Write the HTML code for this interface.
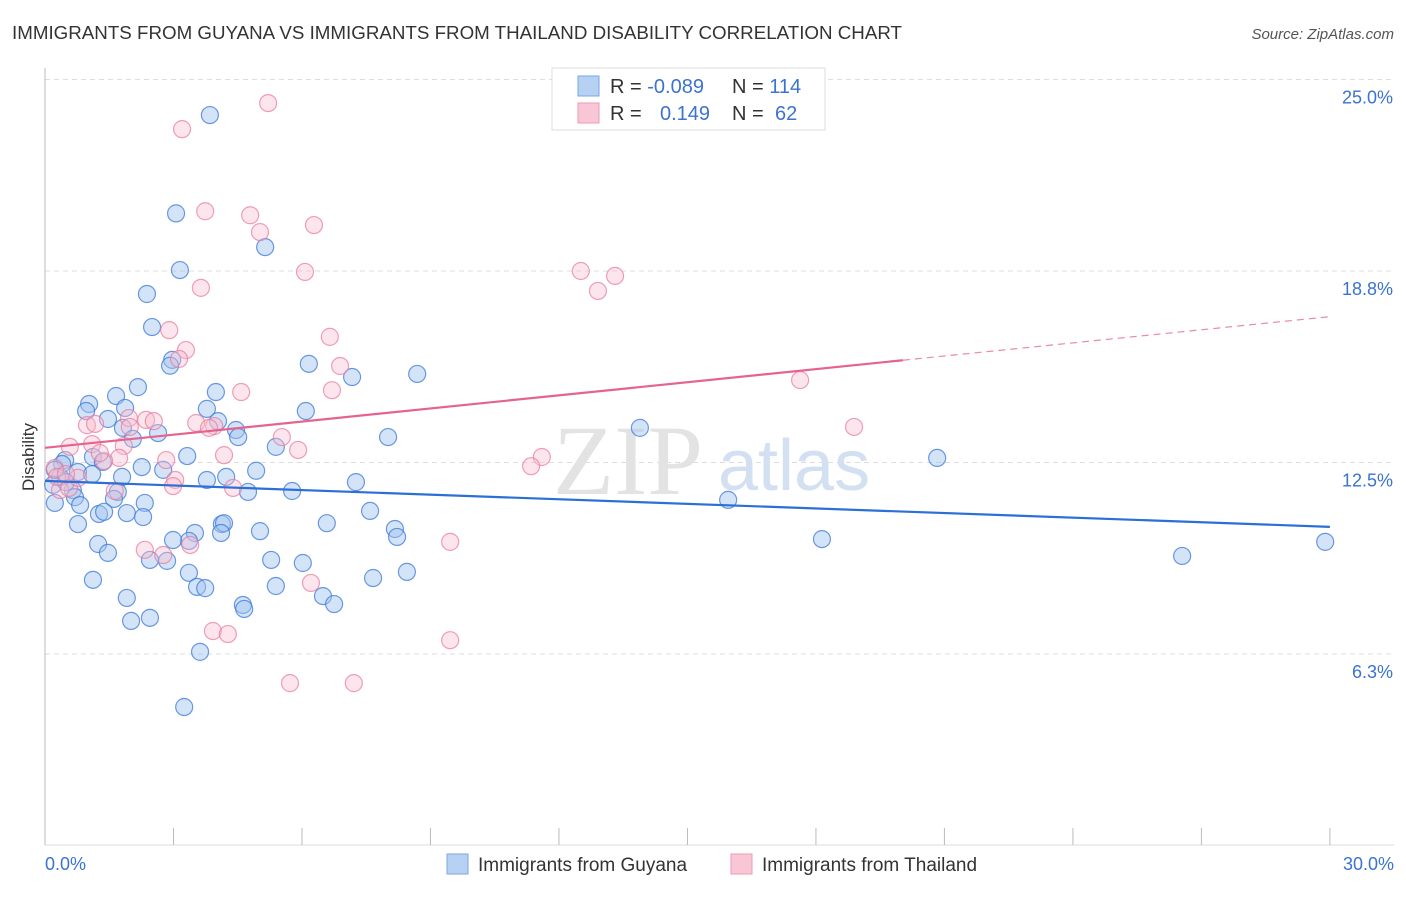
<!DOCTYPE html>
<html><head><meta charset="utf-8"><style>
body{margin:0;background:#fff;font-family:"Liberation Sans",sans-serif;}
</style></head><body>
<svg id="chart" width="1406" height="892" xmlns="http://www.w3.org/2000/svg">
<text x="12" y="39" font-size="18" fill="#333" textLength="890" lengthAdjust="spacingAndGlyphs">IMMIGRANTS FROM GUYANA VS IMMIGRANTS FROM THAILAND DISABILITY CORRELATION CHART</text>
<text x="1394" y="39" font-size="15" fill="#555" font-style="italic" text-anchor="end">Source: ZipAtlas.com</text>
<text x="34" y="457" font-size="17" fill="#333" text-anchor="middle" transform="rotate(-90 34 457)">Disability</text>
<g id="grid"></g>
<text x="553" y="494" font-size="100" fill="#e3e3e3" font-family="Liberation Serif,serif">ZIP</text>
<text x="718" y="490" font-size="72" fill="#d3e0f2">atlas</text>
<g id="marks"></g>
<g>
<rect x="552" y="68" width="273" height="62" fill="#fff" stroke="#ddd"/>
<rect x="578" y="76" width="21" height="20" fill="#b7d1f3" stroke="#7aa6e6"/>
<rect x="578" y="103" width="21" height="20" fill="#f9c6d5" stroke="#ee9ab4"/>
<text x="610" y="93" font-size="20" fill="#333">R = <tspan fill="#3b73d1">-0.089</tspan><tspan x="732">N = </tspan><tspan fill="#3b73d1">114</tspan></text>
<text x="610" y="120" font-size="20" fill="#333">R = <tspan x="660" fill="#3b73d1">0.149</tspan><tspan x="732">N = </tspan><tspan x="775" fill="#3b73d1">62</tspan></text>
</g>
<g>
<rect x="447" y="854" width="21" height="20" fill="#b7d1f3" stroke="#7aa6e6"/>
<text x="478" y="871" font-size="19" fill="#333">Immigrants from Guyana</text>
<rect x="731" y="854" width="21" height="20" fill="#f9c6d5" stroke="#ee9ab4"/>
<text x="762" y="871" font-size="19" fill="#333">Immigrants from Thailand</text>
</g>
</svg>
<script>
const yTicks=[25.0,18.8,12.5,6.3];
const yTickVals=[25,18.75,12.5,6.25];
const xTickLabels=["0.0%","30.0%"];
const blueX=[3.85,3.06,5.14,3.15,2.38,2.50,2.97,2.92,6.16,7.17,8.69,2.17,3.99,1.66,1.03,1.87,0.96,3.78,6.09,4.04,1.47,1.82,4.46,4.51,2.64,2.05,8.01,5.39,13.89,20.83,0.47,1.12,3.32,1.35,2.76,4.93,0.77,1.10,1.80,3.78,2.26,4.23,7.26,0.35,0.19,0.65,1.70,1.61,0.70,4.74,5.77,0.23,0.82,2.33,1.26,1.38,1.91,2.29,7.59,15.95,4.13,4.18,0.77,5.02,6.58,8.17,8.22,1.24,3.50,4.11,3.36,2.99,1.47,2.45,2.85,5.28,6.02,18.14,26.55,29.89,3.36,1.12,3.55,3.74,5.39,7.66,8.45,1.91,4.62,4.65,6.49,6.75,2.01,2.45,3.62,3.25,0.40,0.23,0.49];
const blueY=[23.84,20.63,19.53,18.78,18.00,16.92,15.85,15.66,15.72,15.29,15.39,14.96,14.80,14.67,14.41,14.28,14.18,14.25,14.18,13.85,13.92,13.63,13.56,13.33,13.46,13.27,13.33,13.01,13.63,12.65,12.58,12.68,12.71,12.52,12.26,12.23,12.19,12.12,12.03,11.93,12.35,12.03,11.86,12.03,11.77,11.60,11.54,11.31,11.37,11.54,11.57,11.18,11.11,11.18,10.82,10.89,10.85,10.72,10.92,11.28,10.49,10.52,10.49,10.26,10.52,10.33,10.07,9.84,10.20,10.20,9.94,9.97,9.55,9.32,9.29,9.32,9.22,10.00,9.45,9.91,8.90,8.67,8.44,8.40,8.47,8.73,8.93,8.08,7.85,7.72,8.14,7.88,7.33,7.43,6.32,4.52,12.45,12.26,11.86];
const pinkX=[5.21,3.20,3.74,4.79,5.02,6.28,6.07,3.64,12.51,12.91,13.31,2.90,3.29,3.13,6.65,6.89,4.58,17.63,6.70,1.96,2.36,2.54,0.98,1.17,3.53,3.95,3.83,1.98,5.53,18.89,0.58,1.84,1.10,5.91,4.18,1.73,1.38,11.60,11.35,2.83,3.04,2.99,0.23,0.35,0.56,4.39,1.63,2.33,2.76,3.39,9.46,6.21,3.92,4.27,9.46,5.72,7.21,1.28,0.77,0.28,0.49];
const pinkY=[24.23,23.38,20.70,20.57,20.02,20.25,18.72,18.20,18.75,18.10,18.59,16.82,16.17,15.88,16.60,15.65,14.80,15.19,14.86,13.95,13.89,13.85,13.72,13.76,13.79,13.69,13.63,13.66,13.33,13.66,13.01,13.04,13.10,12.91,12.74,12.65,12.55,12.68,12.38,12.58,11.93,11.73,12.32,11.60,11.67,11.67,11.57,9.65,9.48,9.81,9.91,8.57,7.00,6.90,6.70,5.30,5.30,12.81,12.00,12.03,12.12];
const blueTrend=[11.90,10.40];
const pinkTrend=[12.98,17.26];
const pinkSolidEnd=20.03;
const NS="http://www.w3.org/2000/svg";
const X=v=>45+v*42.83;
const Y=v=>845.5-v*30.64;
function mk(tag,attrs,parent){const e=document.createElementNS(NS,tag);for(const k in attrs)e.setAttribute(k,attrs[k]);parent.appendChild(e);return e;}
const grid=document.getElementById('grid');
yTickVals.forEach((v,i)=>{
 const l=mk('line',{x1:45,x2:1394,y1:Y(v),y2:Y(v),stroke:'#ddd','stroke-dasharray':'5,4'},grid);
 
 
 const t=mk('text',{x:1393,y:Y(v)+24,'font-size':18,fill:'#3b73d1','text-anchor':'end'},grid);
 t.textContent=yTicks[i].toFixed(1)+'%';
 
 
});
const ax=mk('line',{x1:45,x2:45,y1:68,y2:845,stroke:'#bbb'},grid);


const bx=mk('line',{x1:45,x2:1394,y1:845,y2:845,stroke:'#ddd'},grid);


for(let i=0;i<=10;i++){
 const tk=mk('line',{x1:X(i*3),x2:X(i*3),y1:828,y2:845,stroke:'#bbb'},grid);
 
 
}
[[0,'start',45],[30,'end',1394]].forEach((d,i)=>{
 const t=mk('text',{x:d[2],y:870,'font-size':18,fill:'#3b73d1','text-anchor':d[1]},grid);
 t.textContent=xTickLabels[i];
 
 
});
const marks=document.getElementById('marks');
blueX.forEach((x,i)=>{
 const c=mk('circle',{cx:X(x),cy:Y(blueY[i]),r:8.5,fill:'rgba(160,195,240,0.45)',stroke:'rgba(60,120,215,0.75)','stroke-width':1.2},marks);
 
 
});
pinkX.forEach((x,i)=>{
 const c=mk('circle',{cx:X(x),cy:Y(pinkY[i]),r:8.5,fill:'rgba(248,190,208,0.4)',stroke:'rgba(232,120,155,0.7)','stroke-width':1.2},marks);
 
 
});
const bt=mk('line',{x1:X(0),y1:Y(blueTrend[0]),x2:X(30),y2:Y(blueTrend[1]),stroke:'#2c6fd6','stroke-width':2.2},marks);


const pm=pinkTrend[0]+(pinkTrend[1]-pinkTrend[0])*pinkSolidEnd/30;
const pt=mk('line',{x1:X(0),y1:Y(pinkTrend[0]),x2:X(pinkSolidEnd),y2:Y(pm),stroke:'#e5648e','stroke-width':2.2},marks);


const pd=mk('line',{x1:X(pinkSolidEnd),y1:Y(pm),x2:X(30),y2:Y(pinkTrend[1]),stroke:'#e98aa8','stroke-width':1.2,'stroke-dasharray':'7,5'},marks);


</script>
</body></html>
